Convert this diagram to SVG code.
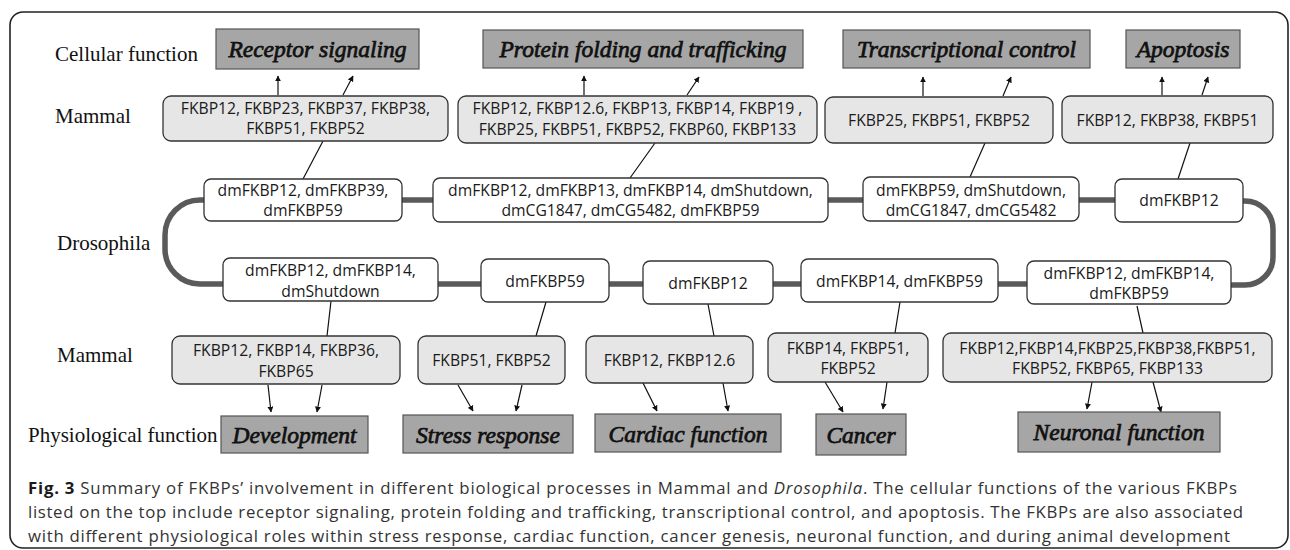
<svg xmlns="http://www.w3.org/2000/svg" width="1290" height="550" viewBox="0 0 1290 550">
<defs>
<style>
.frame{fill:#fff;stroke:#222;stroke-width:1.6}
.title rect{fill:#a6a6a6;stroke:#555;stroke-width:1.2}
.title text{font-family:"Liberation Serif","Times New Roman",serif;font-style:italic;font-size:23.5px;fill:#111;stroke:#111;stroke-width:0.75;text-anchor:middle}
.mam rect{fill:#e6e6e6;stroke:#333;stroke-width:1.3}
.dro rect{fill:#fff;stroke:#333;stroke-width:1.3}
.mam text,.dro text{font-family:"Open Sans","Liberation Sans",sans-serif;font-size:15.7px;fill:#1a1a1a;text-anchor:middle}
.lbl{font-family:"Liberation Serif",serif;font-size:21px;fill:#111}
.thick{fill:none;stroke:#5a5a5a;stroke-width:5.5}
.thin{fill:none;stroke:#111;stroke-width:1.2}
.arr{fill:none;stroke:#111;stroke-width:1.2;marker-end:url(#ah)}
.cap{font-family:"Open Sans","Liberation Sans",sans-serif;font-size:16.8px;fill:#333}
</style>
<marker id="ah" viewBox="0 0 10 10" refX="9" refY="5" markerWidth="6" markerHeight="6" orient="auto" markerUnits="userSpaceOnUse">
<path d="M0,0 L10,5 L0,10 z" fill="#111"/>
</marker>
</defs>
<rect width="1290" height="550" fill="#fff"/>
<rect class="frame" x="10" y="12" width="1278" height="536" rx="13"/>

<g id="labels">
<text class="lbl" x="55" y="61">Cellular function</text>
<text class="lbl" x="55" y="123">Mammal</text>
<text class="lbl" x="57" y="250">Drosophila</text>
<text class="lbl" x="57" y="362">Mammal</text>
<text class="lbl" x="28" y="442">Physiological function</text>
</g>

<g id="connectors">
<path class="thick" d="M204,200 H200 A35,35 0 0 0 165,235 V249 A35,35 0 0 0 200,284 H223"/>
<path class="thick" d="M402,200 H433 M828,200 H863 M1079,200 H1115"/>
<path class="thick" d="M1243,201 H1245 A28,28 0 0 1 1273,229 V257 A28,28 0 0 1 1245,285 H1231"/>
<path class="thick" d="M438,284 H481 M609,284 H643 M773,284 H801 M998,284 H1027"/>
<path class="thin" d="M323,141 L303,179 M655,143 L630,178 M985,143 L970,177 M1190,143 L1178,179"/>
<path class="thin" d="M331,301 L327,336 M546,302 L536,336 M708,304 L714,336 M900,302 L895,333 M1137,306 L1143,333"/>
<path class="arr" d="M278,95 L278,76"/>
<path class="arr" d="M343,95 L353,76"/>
<path class="arr" d="M584,95 L584,76"/>
<path class="arr" d="M687,95 L699,77"/>
<path class="arr" d="M923,96 L923,77"/>
<path class="arr" d="M1003,96 L1011,77"/>
<path class="arr" d="M1162,95 L1162,77"/>
<path class="arr" d="M1202,95 L1208,77"/>
<path class="arr" d="M268,385 L271,412"/>
<path class="arr" d="M322,385 L317,412"/>
<path class="arr" d="M458,385 L473,411"/>
<path class="arr" d="M522,385 L516,411"/>
<path class="arr" d="M643,383 L657,411"/>
<path class="arr" d="M723,383 L728,411"/>
<path class="arr" d="M825,382 L843,412"/>
<path class="arr" d="M887,382 L883,409"/>
<path class="arr" d="M1092,382 L1087,409"/>
<path class="arr" d="M1153,382 L1161,412"/>
</g>

<g id="t-receptor" class="title"><rect x="216" y="29" width="203" height="40"/><text x="317.5" y="57">Receptor signaling</text></g>
<g id="t-protein" class="title"><rect x="483" y="30" width="320" height="38"/><text x="643" y="57">Protein folding and trafficking</text></g>
<g id="t-transcription" class="title"><rect x="843" y="30" width="247" height="38"/><text x="966.5" y="57">Transcriptional control</text></g>
<g id="t-apoptosis" class="title"><rect x="1126" y="30" width="114" height="38"/><text x="1183" y="57">Apoptosis</text></g>

<g id="m-top1" class="mam"><rect x="163" y="96" width="285" height="45" rx="8"/><text x="305.5" y="114">FKBP12, FKBP23, FKBP37, FKBP38,</text><text x="305.5" y="134">FKBP51, FKBP52</text></g>
<g id="m-top2" class="mam"><rect x="458" y="96" width="359" height="47" rx="8"/><text x="637.5" y="114">FKBP12, FKBP12.6, FKBP13, FKBP14, FKBP19 ,</text><text x="637.5" y="135">FKBP25, FKBP51, FKBP52, FKBP60, FKBP133</text></g>
<g id="m-top3" class="mam"><rect x="825" y="97" width="228" height="46" rx="8"/><text x="939" y="126">FKBP25, FKBP51, FKBP52</text></g>
<g id="m-top4" class="mam"><rect x="1062" y="96" width="211" height="47" rx="8"/><text x="1167.5" y="126">FKBP12, FKBP38, FKBP51</text></g>

<g id="d-top1" class="dro"><rect x="204" y="179" width="198" height="42" rx="7"/><text x="303" y="196">dmFKBP12, dmFKBP39,</text><text x="303" y="216">dmFKBP59</text></g>
<g id="d-top2" class="dro"><rect x="433" y="178" width="395" height="44" rx="7"/><text x="630.5" y="196">dmFKBP12, dmFKBP13, dmFKBP14, dmShutdown,</text><text x="630.5" y="216">dmCG1847, dmCG5482, dmFKBP59</text></g>
<g id="d-top3" class="dro"><rect x="863" y="177" width="216" height="44" rx="7"/><text x="971" y="196">dmFKBP59, dmShutdown,</text><text x="971" y="216">dmCG1847, dmCG5482</text></g>
<g id="d-top4" class="dro"><rect x="1115" y="179" width="128" height="43" rx="7"/><text x="1179" y="206">dmFKBP12</text></g>

<g id="d-bot1" class="dro"><rect x="223" y="258" width="215" height="43" rx="7"/><text x="330.5" y="276">dmFKBP12, dmFKBP14,</text><text x="330.5" y="297">dmShutdown</text></g>
<g id="d-bot2" class="dro"><rect x="481" y="259" width="128" height="43" rx="7"/><text x="545" y="287">dmFKBP59</text></g>
<g id="d-bot3" class="dro"><rect x="643" y="261" width="130" height="43" rx="7"/><text x="708" y="289">dmFKBP12</text></g>
<g id="d-bot4" class="dro"><rect x="801" y="259" width="197" height="43" rx="7"/><text x="899.5" y="287">dmFKBP14, dmFKBP59</text></g>
<g id="d-bot5" class="dro"><rect x="1027" y="261" width="204" height="43" rx="7"/><text x="1129" y="279">dmFKBP12, dmFKBP14,</text><text x="1129" y="299">dmFKBP59</text></g>

<g id="m-bot1" class="mam"><rect x="172" y="336" width="228" height="48" rx="8"/><text x="286" y="356">FKBP12, FKBP14, FKBP36,</text><text x="286" y="377">FKBP65</text></g>
<g id="m-bot2" class="mam"><rect x="418" y="336" width="147" height="48" rx="8"/><text x="491.5" y="366">FKBP51, FKBP52</text></g>
<g id="m-bot3" class="mam"><rect x="586" y="336" width="167" height="47" rx="8"/><text x="669.5" y="366">FKBP12, FKBP12.6</text></g>
<g id="m-bot4" class="mam"><rect x="768" y="333" width="160" height="49" rx="8"/><text x="848" y="354">FKBP14, FKBP51,</text><text x="848" y="374">FKBP52</text></g>
<g id="m-bot5" class="mam"><rect x="943" y="333" width="329" height="49" rx="8"/><text x="1107.5" y="354">FKBP12,FKBP14,FKBP25,FKBP38,FKBP51,</text><text x="1107.5" y="374">FKBP52, FKBP65, FKBP133</text></g>

<g id="p-development" class="title"><rect x="221" y="416" width="147" height="37"/><text x="294.5" y="443">Development</text></g>
<g id="p-stress" class="title"><rect x="403" y="415" width="170" height="38"/><text x="488" y="443">Stress response</text></g>
<g id="p-cardiac" class="title"><rect x="595" y="414" width="186" height="38"/><text x="688" y="442">Cardiac function</text></g>
<g id="p-cancer" class="title"><rect x="816" y="414" width="90" height="41"/><text x="861" y="443">Cancer</text></g>
<g id="p-neuronal" class="title"><rect x="1018" y="412" width="202" height="40"/><text x="1119" y="440">Neuronal function</text></g>

<g id="caption">
<text class="cap" x="28" y="494" textLength="1209" lengthAdjust="spacing"><tspan font-weight="bold" fill="#1a1a1a">Fig. 3</tspan> Summary of FKBPs’ involvement in different biological processes in Mammal and <tspan font-style="italic">Drosophila</tspan>. The cellular functions of the various FKBPs</text>
<text class="cap" x="28" y="518" textLength="1215" lengthAdjust="spacing">listed on the top include receptor signaling, protein folding and trafficking, transcriptional control, and apoptosis. The FKBPs are also associated</text>
<text class="cap" x="28" y="542" textLength="1202" lengthAdjust="spacing">with different physiological roles within stress response, cardiac function, cancer genesis, neuronal function, and during animal development</text>
</g>
</svg>
